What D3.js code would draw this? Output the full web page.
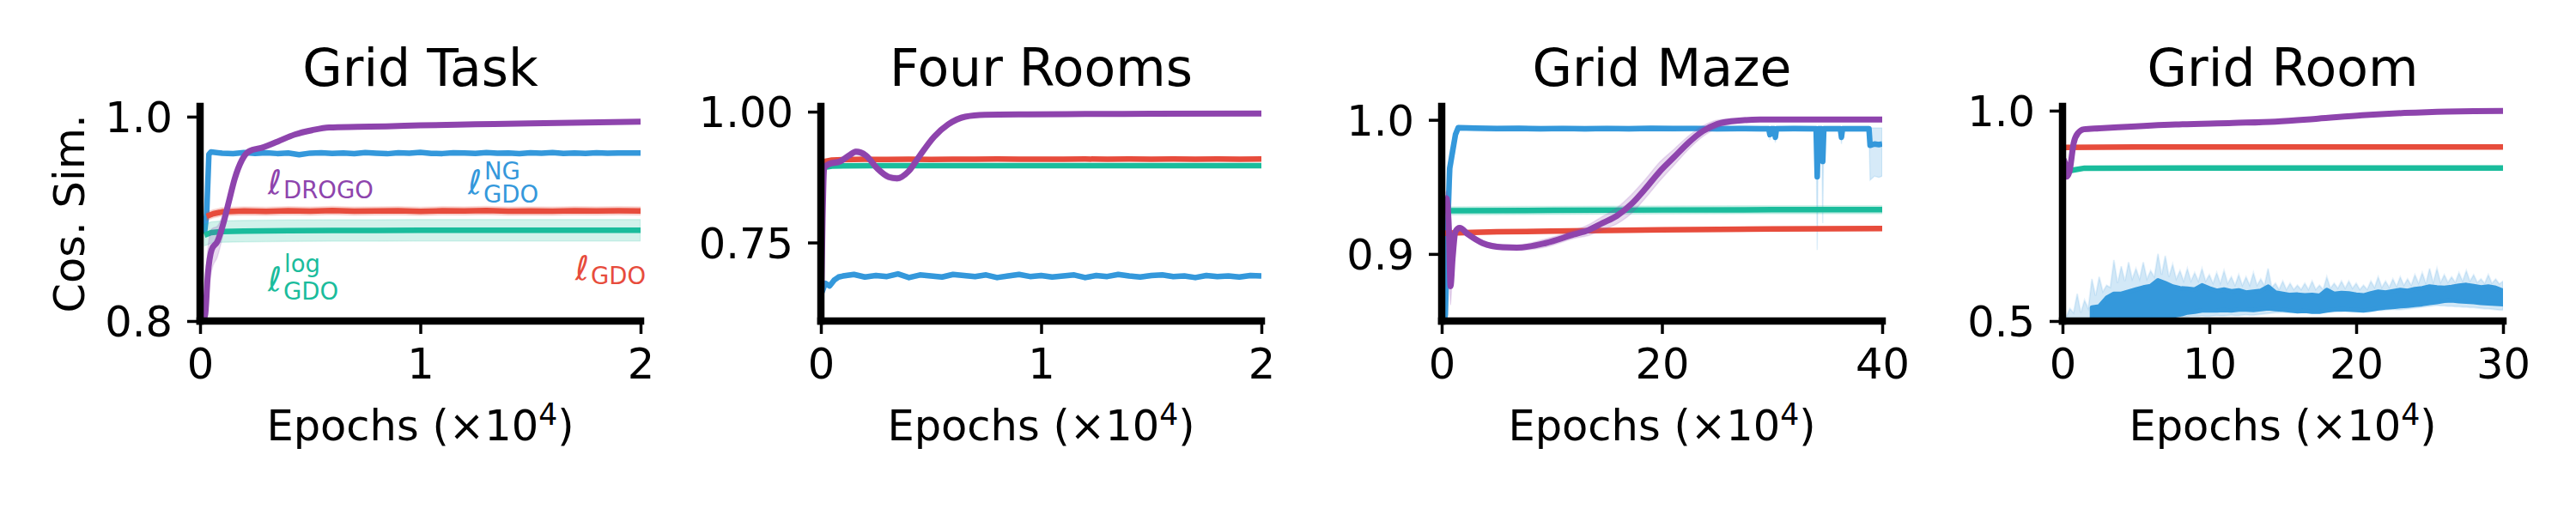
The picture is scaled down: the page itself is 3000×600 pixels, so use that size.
<!DOCTYPE html>
<html><head><meta charset="utf-8">
<script src="https://cdn.jsdelivr.net/npm/d3@7"></script>
<style>body{margin:0;background:#fff;} svg text{font-family:"DejaVu Sans";}</style>
</head><body><svg id="c" width="3000" height="600"></svg>
<script>
// ---------------- DATA ----------------
const panelTitles = ["Grid Task", "Four Rooms", "Grid Maze", "Grid Room"];
const xDomains = [[0, 2], [0, 2], [0, 40], [0, 30]];
const yDomains = [[0.8, 1.01], [0.6, 1.01], [0.85, 1.01], [0.5, 1.01]];
const xTicks = [[0, 1, 2], [0, 1, 2], [0, 20, 40], [0, 10, 20, 30]];
const xTickLabels = [["0", "1", "2"], ["0", "1", "2"], ["0", "20", "40"], ["0", "10", "20", "30"]];
const yTicks = [[0.8, 1.0], [0.75, 1.0], [0.9, 1.0], [0.5, 1.0]];
const yTickLabels = [["0.8", "1.0"], ["0.75", "1.00"], ["0.9", "1.0"], ["0.5", "1.0"]];
const yLabel = "Cos. Sim.";
const xLabelMain = "Epochs (×10";
const xLabelSup = "4";

// Panel 1: Grid Task
const gtNgX = [0.02,0.03,0.04,0.05,0.1,0.15,0.2,0.25,0.3,0.35,0.4,0.45,0.5,0.55,0.6,0.65,0.7,0.75,0.8,0.85,0.9,0.95,1.0,1.05,1.1,1.15,1.2,1.25,1.3,1.35,1.4,1.45,1.5,1.55,1.6,1.65,1.7,1.75,1.8,1.85,1.9,1.95,2.0];
const gtNgY = [0.886,0.905,0.963,0.9655,0.9642,0.9638,0.9648,0.9641,0.9646,0.9639,0.9644,0.9628,0.9643,0.9647,0.9640,0.9645,0.9638,0.9649,0.9642,0.9637,0.9646,0.9643,0.9650,0.9641,0.9639,0.9647,0.9644,0.9640,0.9648,0.9642,0.9645,0.9638,0.9646,0.9643,0.9649,0.9640,0.9644,0.9641,0.9647,0.9643,0.9645,0.9644,0.9644];
const gtGdoX = [0.03,0.06,0.1,0.2,0.3,0.4,0.5,0.6,0.7,0.8,0.9,1.0,1.1,1.2,1.3,1.4,1.5,1.6,1.7,1.8,1.9,2.0];
const gtGdoY = [0.9025,0.905,0.9068,0.9078,0.9074,0.9079,0.9076,0.9081,0.9075,0.9078,0.9080,0.9074,0.9079,0.9077,0.9081,0.9076,0.9078,0.9075,0.9080,0.9077,0.9079,0.9078];
const gtLogX = [0.02,0.05,0.1,0.2,0.4,0.6,0.8,1.0,1.2,1.4,1.6,1.8,2.0];
const gtLogY = [0.884,0.8865,0.8875,0.888,0.8884,0.8886,0.8887,0.8888,0.8888,0.8888,0.8888,0.8888,0.8888];
const gtDrogoX = [0,0.01,0.023,0.035,0.053,0.079,0.105,0.131,0.157,0.19,0.222,0.287,0.352,0.43,0.508,0.586,0.716,0.846,1.0,1.25,1.5,1.75,2.0];
const gtDrogoY = [0.80,0.80,0.806,0.845,0.870,0.878,0.895,0.917,0.939,0.9575,0.966,0.970,0.9756,0.9825,0.9867,0.9894,0.990,0.9905,0.9915,0.9925,0.9935,0.9943,0.995];
const gtDrogoW = [0,0.005,0.015,0.025,0.02,0.015,0.01,0.006,0.004,0.003,0.002,0.0015,0.0015,0.0015,0.0015,0.0015,0.0015,0.0015,0.0015,0.0015,0.0015,0.0015,0.0015];

// Panel 2: Four Rooms
const frNgX = [0.005,0.02,0.04,0.06,0.08,0.1,0.15,0.2,0.25,0.3,0.35,0.4,0.45,0.5,0.55,0.6,0.65,0.7,0.75,0.8,0.85,0.9,0.95,1.0,1.05,1.1,1.15,1.2,1.25,1.3,1.35,1.4,1.45,1.5,1.55,1.6,1.65,1.7,1.75,1.8,1.85,1.9,1.95,2.0];
const frNgY = [0.655,0.672,0.667,0.678,0.684,0.686,0.689,0.684,0.687,0.685,0.690,0.683,0.688,0.686,0.684,0.689,0.687,0.685,0.688,0.683,0.686,0.689,0.685,0.687,0.684,0.686,0.688,0.683,0.687,0.685,0.689,0.686,0.684,0.687,0.688,0.685,0.686,0.683,0.687,0.685,0.686,0.684,0.687,0.686];
const frGdoX = [0.005,0.02,0.05,0.1,0.2,0.3,0.4,0.5,0.6,0.7,0.8,0.9,1.0,1.1,1.2,1.3,1.4,1.5,1.6,1.7,1.8,1.9,2.0];
const frGdoY = [0.897,0.905,0.9075,0.9085,0.909,0.9088,0.9092,0.9089,0.9093,0.909,0.9094,0.9091,0.9093,0.909,0.9094,0.9092,0.9095,0.9091,0.9094,0.9093,0.9095,0.9092,0.9094];
const frLogX = [0.005,0.02,0.05,0.1,0.3,0.6,1.0,1.5,2.0];
const frLogY = [0.89,0.894,0.896,0.8965,0.8968,0.897,0.897,0.897,0.897];
const frDrogoX = [0,0.008,0.015,0.037,0.089,0.127,0.159,0.18,0.205,0.256,0.308,0.346,0.398,0.449,0.514,0.578,0.655,0.745,0.938,1.2,1.5,2.0];
const frDrogoY = [0.60,0.80,0.893,0.8999,0.9054,0.916,0.9235,0.922,0.916,0.8916,0.8752,0.8725,0.886,0.916,0.952,0.9756,0.9903,0.994,0.995,0.9955,0.996,0.9965];
const frDrogoW = [0.01,0.01,0.008,0.006,0.006,0.006,0.006,0.006,0.006,0.006,0.006,0.006,0.006,0.006,0.006,0.005,0.004,0.003,0.002,0.002,0.002,0.002];

// Panel 3: Grid Maze
const gmNgX = [0.2,0.33,0.54,0.72,0.99,1.25,1.5,3,5,7,9,11,13,15,17,19,21,23,25,27,29,29.7,29.8,29.9,30.2,30.3,30.4,32,33.9,34.0,34.1,34.2,34.5,34.6,34.7,35.5,36.2,36.3,36.4,37.5,38.7,38.8,38.9,39.3,39.7,40];
const gmNgY = [0.85,0.8547,0.9188,0.9637,0.9765,0.989,0.9942,0.9938,0.9935,0.9937,0.9934,0.9936,0.9933,0.9936,0.9934,0.9937,0.9935,0.9936,0.9934,0.9935,0.9934,0.9934,0.989,0.9934,0.9934,0.987,0.9934,0.9935,0.9934,0.9934,0.9575,0.9934,0.9934,0.969,0.9934,0.9934,0.9934,0.987,0.9934,0.9934,0.9934,0.9934,0.981,0.982,0.9815,0.982];
const gmNgLo = [0.85,0.85,0.89,0.94,0.965,0.983,0.992,0.9918,0.9915,0.9917,0.9914,0.9916,0.9913,0.9916,0.9914,0.9917,0.9915,0.9916,0.9914,0.9915,0.9914,0.9914,0.985,0.9914,0.9914,0.983,0.9914,0.9915,0.9914,0.9914,0.903,0.9914,0.9914,0.923,0.9914,0.9914,0.9914,0.982,0.9914,0.9914,0.9914,0.9914,0.955,0.958,0.957,0.958];
const gmNgHi = [0.86,0.87,0.94,0.975,0.985,0.993,0.9958,0.9955,0.9952,0.9954,0.9951,0.9953,0.995,0.9953,0.9951,0.9954,0.9952,0.9953,0.9951,0.9952,0.9951,0.9951,0.992,0.9951,0.9951,0.992,0.9951,0.9952,0.9951,0.9951,0.992,0.9951,0.9951,0.992,0.9951,0.9951,0.9951,0.992,0.9951,0.9951,0.9951,0.9951,0.994,0.994,0.994,0.994];
const gmGdoX = [0,5,10,20,30,40];
const gmGdoY = [0.9155,0.9165,0.917,0.918,0.9187,0.919];
const gmLogX = [0.2,10,20,30,40];
const gmLogY = [0.9322,0.9325,0.9328,0.933,0.933];
const gmDrogoX = [0.3,0.47,0.65,0.8,0.99,1.25,1.63,2.41,3.71,5.53,6.82,9.42,11.98,13.3,14.6,15.9,17.2,18.5,19.8,21.1,22.4,23.7,25.0,26.3,28.9,32,36,40];
const gmDrogoY = [0.942,0.9412,0.9188,0.876,0.897,0.9167,0.9194,0.9145,0.9081,0.905,0.9047,0.9081,0.9145,0.9177,0.923,0.9284,0.937,0.9487,0.9615,0.9722,0.9829,0.9915,0.9968,0.9989,1.0002,1.0003,1.0003,1.0003];
const gmDrogoW = [0.003,0.006,0.01,0.014,0.006,0.003,0.002,0.002,0.002,0.002,0.002,0.003,0.003,0.004,0.005,0.006,0.007,0.007,0.007,0.006,0.005,0.004,0.003,0.002,0.001,0.001,0.001,0.001];

// Panel 4: Grid Room -- light band (quarter-unit samples) and dark band (half-unit samples)
const grNgBandX = [
 0,0.25,0.5,0.75, 1,1.25,1.5,1.75, 2,2.25,2.5,2.75, 3,3.25,3.5,3.75, 4,4.25,4.5,4.75,
 5,5.25,5.5,5.75, 6,6.25,6.5,6.75, 7,7.25,7.5,7.75, 8,8.25,8.5,8.75, 9,9.25,9.5,9.75,
 10,10.25,10.5,10.75, 11,11.25,11.5,11.75, 12,12.25,12.5,12.75, 13,13.25,13.5,13.75, 14,14.25,14.5,14.75,
 15,15.25,15.5,15.75, 16,16.25,16.5,16.75, 17,17.25,17.5,17.75, 18,18.25,18.5,18.75, 19,19.25,19.5,19.75,
 20,20.25,20.5,20.75, 21,21.25,21.5,21.75, 22,22.25,22.5,22.75, 23,23.25,23.5,23.75, 24,24.25,24.5,24.75,
 25,25.25,25.5,25.75, 26,26.25,26.5,26.75, 27,27.25,27.5,27.75, 28,28.25,28.5,28.75, 29,29.25,29.5,29.75, 30];
const grNgHi = [
 0.50,0.51,0.53,0.52, 0.565,0.52,0.55,0.53, 0.60,0.56,0.605,0.57, 0.585,0.58,0.645,0.59, 0.63,0.595,0.64,0.60,
 0.625,0.60,0.64,0.60, 0.62,0.605,0.66,0.61, 0.655,0.605,0.635,0.60, 0.62,0.595,0.625,0.595, 0.615,0.595,0.625,0.595,
 0.61,0.59,0.615,0.59, 0.62,0.59,0.605,0.585, 0.61,0.585,0.605,0.585, 0.615,0.585,0.60,0.585, 0.625,0.58,0.59,0.575,
 0.595,0.575,0.59,0.575, 0.585,0.575,0.59,0.575, 0.595,0.575,0.585,0.575, 0.605,0.578,0.59,0.578, 0.595,0.578,0.595,0.578,
 0.59,0.575,0.585,0.575, 0.595,0.58,0.605,0.58, 0.595,0.58,0.60,0.582, 0.605,0.585,0.60,0.585, 0.61,0.59,0.615,0.59,
 0.625,0.592,0.625,0.592, 0.61,0.592,0.605,0.592, 0.615,0.595,0.62,0.595, 0.61,0.592,0.60,0.59, 0.61,0.59,0.60,0.588, 0.595];
const grNgLo = [
 0.50,0.50,0.50,0.50, 0.50,0.50,0.50,0.50, 0.503,0.504,0.505,0.505, 0.505,0.506,0.506,0.505, 0.505,0.506,0.507,0.506,
 0.506,0.507,0.508,0.507, 0.507,0.508,0.508,0.508, 0.509,0.508,0.508,0.509, 0.510,0.510,0.510,0.511, 0.511,0.511,0.512,0.511,
 0.511,0.512,0.513,0.512, 0.512,0.513,0.514,0.513, 0.513,0.514,0.515,0.514, 0.514,0.515,0.516,0.517, 0.518,0.519,0.520,0.520,
 0.521,0.520,0.520,0.521, 0.522,0.521,0.521,0.522, 0.523,0.522,0.522,0.521, 0.521,0.522,0.523,0.522, 0.522,0.523,0.524,0.523,
 0.523,0.522,0.522,0.523, 0.524,0.524,0.525,0.525, 0.526,0.527,0.528,0.527, 0.527,0.528,0.529,0.530, 0.531,0.532,0.533,0.534,
 0.535,0.536,0.537,0.536, 0.536,0.535,0.535,0.534, 0.534,0.533,0.533,0.532, 0.532,0.531,0.530,0.529, 0.529,0.528,0.527,0.526, 0.526];
const grNgX = [0,0.5,1,1.5,2,2.5,3,3.5,4,4.5,5,5.5,6,6.5,7,7.5,8,8.5,9,9.5,10,10.5,11,11.5,12,12.5,13,13.5,14,14.5,15,15.5,16,16.5,17,17.5,18,18.5,19,19.5,20,20.5,21,21.5,22,22.5,23,23.5,24,24.5,25,25.5,26,26.5,27,27.5,28,28.5,29,29.5,30];
const grNgTop = [null,null,null,null,0.532,0.535,0.555,0.565,0.565,0.57,0.575,0.58,0.583,0.597,0.59,0.582,0.578,0.577,0.575,0.585,0.578,0.572,0.575,0.571,0.573,0.568,0.57,0.572,0.582,0.568,0.565,0.562,0.563,0.561,0.562,0.56,0.574,0.565,0.567,0.566,0.563,0.561,0.566,0.57,0.568,0.571,0.574,0.572,0.576,0.578,0.582,0.58,0.579,0.581,0.584,0.586,0.583,0.58,0.582,0.579,0.572];
const grNgBot = [null,null,null,null,0.50,0.50,0.50,0.50,0.505,0.505,0.505,0.508,0.508,0.51,0.51,0.512,0.515,0.52,0.522,0.525,0.525,0.525,0.526,0.525,0.527,0.527,0.526,0.528,0.53,0.528,0.527,0.525,0.523,0.524,0.522,0.522,0.525,0.527,0.528,0.527,0.526,0.525,0.527,0.53,0.532,0.533,0.535,0.536,0.538,0.54,0.543,0.545,0.548,0.549,0.547,0.546,0.545,0.543,0.542,0.541,0.54];
const grGdoX = [0,5,10,15,20,25,30];
const grGdoY = [0.9125,0.9137,0.9137,0.9138,0.9137,0.9138,0.9137];
const grLogX = [0.3,0.6,1.5,10,20,30];
const grLogY = [0.857,0.858,0.8633,0.8634,0.8635,0.8635];
const grDrogoX = [0,0.17,0.27,0.47,0.76,1.06,1.45,2.5,3.8,7.7,11.6,14.5,17.4,20.4,23.3,26.2,28,30];
const grDrogoY = [0.887,0.8755,0.843,0.855,0.923,0.947,0.9557,0.958,0.9605,0.967,0.9708,0.974,0.981,0.989,0.9945,0.998,0.999,0.9993];

// Annotation labels (panel 1)
const annoBase = ["ℓ", "ℓ", "ℓ", "ℓ"];
const annoSub = ["DROGO", "GDO", "GDO", "GDO"];
const annoSup = [null, "NG", "log", null];
const annoX = [0.308, 1.216, 0.308, 1.704];
const annoY = [0.9243, 0.9243, 0.8294, 0.8403];
const annoKey = ["drogo", "ng", "log", "gdo"];

// ---------------- STYLE / LAYOUT ----------------
const COL = {drogo: "#8e44ad", ng: "#3498db", gdo: "#e74c3c", log: "#1abc9c"};
const panelLeft = [233, 956, 1679, 2402];
const AXW = 513, TOP = 124, BOT = 374;
const TICKFS = 49.5, TITLEFS = 60;

const panels = [
  [ {k:"ng", x:gtNgX, y:gtNgY, w:0.0015},
    {k:"gdo", x:gtGdoX, y:gtGdoY, w:0.004},
    {k:"log", x:gtLogX, y:gtLogY, w:0.0105},
    {k:"drogo", x:gtDrogoX, y:gtDrogoY, w:gtDrogoW, smooth:true} ],
  [ {k:"ng", x:frNgX, y:frNgY, w:0.004},
    {k:"gdo", x:frGdoX, y:frGdoY, w:0.003},
    {k:"log", x:frLogX, y:frLogY, w:0.003},
    {k:"drogo", x:frDrogoX, y:frDrogoY, w:frDrogoW, smooth:true} ],
  [ {k:"ng", x:gmNgX, y:gmNgY, lo:gmNgLo, hi:gmNgHi},
    {k:"gdo", x:gmGdoX, y:gmGdoY, w:0.0015},
    {k:"log", x:gmLogX, y:gmLogY, w:0.003},
    {k:"drogo", x:gmDrogoX, y:gmDrogoY, w:gmDrogoW, smooth:true} ],
  [ {k:"ng", env:true, bx:grNgBandX, lo:grNgLo, hi:grNgHi, x:grNgX, top:grNgTop, bot:grNgBot},
    {k:"gdo", x:grGdoX, y:grGdoY, w:0.002},
    {k:"log", x:grLogX, y:grLogY, w:0.003},
    {k:"drogo", x:grDrogoX, y:grDrogoY, w:0.003, smooth:true} ]
];

const svg = d3.select("#c");

panels.forEach((series, i) => {
  const left = panelLeft[i];
  const x = d3.scaleLinear().domain(xDomains[i]).range([left, left + AXW]);
  const y = d3.scaleLinear().domain(yDomains[i]).range([BOT, TOP]);
  const g = svg.append("g");
  g.append("clipPath").attr("id", "clip" + i).append("rect")
    .attr("x", left).attr("y", TOP).attr("width", AXW).attr("height", BOT - TOP);
  const plot = g.append("g").attr("clip-path", `url(#clip${i})`);

  series.forEach(s => {
    const c = COL[s.k];
    if (s.env) {
      const band = s.bx.map((xv, j) => ({x: xv, lo: s.lo[j], hi: s.hi[j]}));
      plot.append("path").datum(band)
        .attr("d", d3.area().x(d => x(d.x)).y0(d => y(d.lo)).y1(d => y(d.hi)))
        .attr("fill", c).attr("fill-opacity", 0.22)
        .attr("stroke", c).attr("stroke-opacity", 0.12).attr("stroke-width", 2);
      const dk = s.x.map((xv, j) => ({x: xv, t: s.top[j], b: s.bot[j]})).filter(d => d.t !== null);
      plot.append("path").datum(dk)
        .attr("d", d3.area().x(d => x(d.x)).y0(d => y(d.b)).y1(d => y(d.t)))
        .attr("fill", c).attr("stroke", c).attr("stroke-width", 5).attr("stroke-linejoin", "round");
      return;
    }
    const pts = s.x.map((xv, j) => {
      const w = Array.isArray(s.w) ? s.w[j] : s.w;
      return {x: xv, y: s.y[j],
              lo: s.lo ? s.lo[j] : s.y[j] - w,
              hi: s.hi ? s.hi[j] : s.y[j] + w};
    });
    const curve = s.smooth ? d3.curveMonotoneX : d3.curveLinear;
    plot.append("path").datum(pts)
      .attr("d", d3.area().x(d => x(d.x)).y0(d => y(d.lo)).y1(d => y(d.hi)).curve(curve))
      .attr("fill", c).attr("fill-opacity", 0.2)
      .attr("stroke", c).attr("stroke-opacity", 0.15).attr("stroke-width", 1.5);
    plot.append("path").datum(pts)
      .attr("d", d3.line().x(d => x(d.x)).y(d => y(d.y)).curve(curve))
      .attr("fill", "none").attr("stroke", c)
      .attr("stroke-width", s.k === "drogo" ? 7 : 6.5)
      .attr("stroke-linejoin", "round");
  });

  // axes
  const ya = g.append("g").attr("transform", `translate(${left},0)`)
    .call(d3.axisLeft(y).tickValues(yTicks[i]).tickFormat((d, j) => yTickLabels[i][j]).tickSize(15).tickPadding(17));
  const xa = g.append("g").attr("transform", `translate(0,${BOT})`)
    .call(d3.axisBottom(x).tickValues(xTicks[i]).tickFormat((d, j) => xTickLabels[i][j]).tickSize(15).tickPadding(17));
  [ya, xa].forEach(a => {
    a.select(".domain").remove();
    a.selectAll(".tick line").attr("stroke", "#000").attr("stroke-width", 3.5);
    a.selectAll(".tick text").attr("font-size", TICKFS).attr("fill", "#000").attr("font-family", "DejaVu Sans");
  });
  ya.selectAll(".tick text").attr("dy", "0.36em");

  // spines
  g.append("path").attr("d", `M${left},${TOP}V${BOT}`)
    .attr("stroke", "#000").attr("stroke-width", 8.5).attr("stroke-linecap", "square");
  g.append("path").attr("d", `M${left},${BOT}H${left + AXW}`)
    .attr("stroke", "#000").attr("stroke-width", 8.5).attr("stroke-linecap", "square");

  // title
  g.append("text").attr("x", left + AXW / 2).attr("y", 100)
    .attr("text-anchor", "middle").attr("font-size", TITLEFS).text(panelTitles[i]);

  // x label
  const xl = g.append("text").attr("x", left + AXW / 2).attr("y", 513)
    .attr("text-anchor", "middle").attr("font-size", TICKFS);
  xl.append("tspan").text(xLabelMain);
  xl.append("tspan").attr("font-size", TICKFS * 0.7).attr("dy", -18).text(xLabelSup);
  xl.append("tspan").attr("dy", 18).text(")");

  if (i === 0) {
    g.append("text").attr("transform", `translate(98,${(TOP + BOT) / 2}) rotate(-90)`)
      .attr("text-anchor", "middle").attr("font-size", TICKFS).text(yLabel);
    annoBase.forEach((b, j) => {
      const c = COL[annoKey[j]];
      const ax = x(annoX[j]), ay = y(annoY[j]);
      g.append("text").attr("x", ax).attr("y", ay).attr("font-size", 39)
        .attr("font-style", "italic").attr("fill", c).text(b);
      const hasSup = annoSup[j] !== null;
      g.append("text").attr("x", ax + 18).attr("y", ay + (hasSup ? 9.5 : 5))
        .attr("font-size", 27.5).attr("fill", c).text(annoSub[j]);
      if (hasSup) {
        g.append("text").attr("x", ax + 19).attr("y", ay - (annoSup[j] === "log" ? 22 : 17))
          .attr("font-size", 27.5).attr("fill", c).text(annoSup[j]);
      }
    });
  }
});
</script></body></html>
